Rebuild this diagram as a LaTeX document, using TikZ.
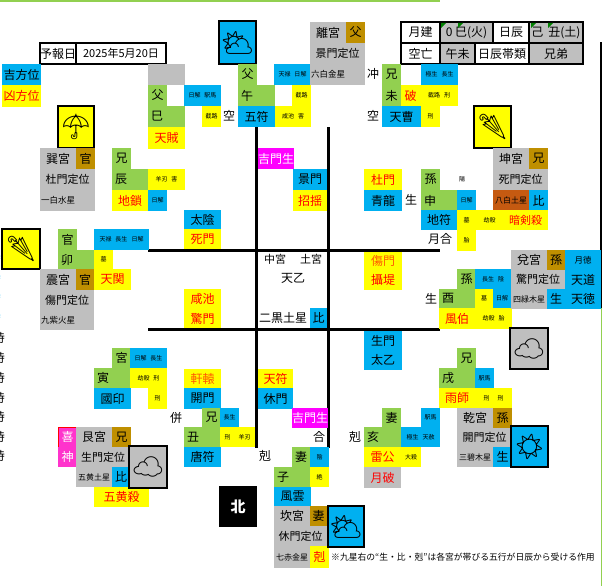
\documentclass[tikz,border=0pt]{standalone}
\usepackage{fontspec}
\setmainfont{Noto Sans CJK JP}
\newfontfamily\emojifont{Noto Emoji}
\definecolor{kgreen}{HTML}{92D050}
\definecolor{kblue}{HTML}{00B0F0}
\definecolor{kyellow}{HTML}{FFFF00}
\definecolor{kgray}{HTML}{BFBFBF}
\definecolor{kbrown}{HTML}{BF8F00}
\definecolor{korange}{HTML}{C55A11}
\definecolor{kmagenta}{HTML}{FF00FF}
\definecolor{kpink}{HTML}{FF33CC}
\tikzset{
  cell/.style={inner sep=0pt, outer sep=0pt, anchor=north west, text=black, font=\fontsize{12}{12}\selectfont},
  txm/.style={font=\fontsize{11}{11}\selectfont},
  txs/.style={font=\fontsize{8.5}{9}\selectfont},
  txt/.style={font=\fontsize{6}{6}\selectfont},
  gr/.style={fill=kgreen},
  bl/.style={fill=kblue},
  ye/.style={fill=kyellow},
  ag/.style={fill=kgray},
  br/.style={fill=kbrown},
  rd/.style={text=red},
  framed/.style={draw=black, line width=2pt},
  icon/.style={framed, font=\emojifont\fontsize{25}{25}\selectfont},
  bline/.style={line width=3pt, black},
  plain/.style={inner sep=0pt, font=\fontsize{12}{12}\selectfont}
}
% cell: name, x0, y0, x1, y1, style, text
\newcommand{\cellbox}[7]{\node[cell, minimum width={(#4-#2)*1pt}, minimum height={(#5-#3)*1pt}, #6] (#1) at (#2,#3) {#7};}
\newcommand{\lfttxt}[2]{\makebox[#1pt][l]{\hspace{3pt}#2}}
\newcommand{\starname}[2]{\makebox[#1pt][l]{\hspace{1pt}#2}}
\newcommand{\gap}{\hspace{4pt}}
\begin{document}
\begin{tikzpicture}[x=1pt, y=-1pt]
\useasboundingbox (0,0) rectangle (602,586);
% edges of the sheet
\fill[kgreen] (0,0) rectangle (440,2);
\fill[kgreen] (600.5,308) rectangle (602,586);
\fill[black] (600,42) rectangle (602,308);
% date and legend
\cellbox{dateA}{40}{43}{76}{64}{framed, fill=white}{予報日}
\cellbox{dateB}{76}{43}{166}{64}{framed, fill=white, txm}{2025年5月20日}
\cellbox{lucky}{2}{64}{41}{85}{bl}{吉方位}
\cellbox{unlucky}{2}{85}{41}{107}{ye, rd}{凶方位}
% header table
\cellbox{hA}{401}{22}{440}{43}{framed, fill=white}{月建}
\cellbox{hB}{440}{22}{493}{43}{framed, ag}{0 巳(火)}
\cellbox{hC}{493}{22}{529}{43}{framed, fill=white}{日辰}
\cellbox{hD}{529}{22}{583}{43}{framed, ag}{己\hspace{5pt}丑(土)}
\cellbox{hE}{401}{43}{440}{64}{framed, fill=white}{空亡}
\cellbox{hF}{440}{43}{475}{64}{framed, ag}{午未}
\cellbox{hG}{475}{43}{529}{64}{framed, fill=white}{日辰帯類}
\cellbox{hH}{529}{43}{583}{64}{framed, ag}{兄弟}
\foreach \cx in {441,458,531,548}
  \fill[green!50!black] (\cx,23) -- (\cx+5,23) -- (\cx,28) -- cycle;
% grid lines
\draw[bline] (256.5,127) -- (256.5,448);
\draw[bline] (328.5,127) -- (328.5,448);
\draw[bline] (148,250.5) -- (440,250.5);
\draw[bline] (148,329.5) -- (440,329.5);
% south-east palace (top left on sheet)
\cellbox{seIcon}{58}{106}{94}{148}{icon, ye}{☂}
\cellbox{seA}{40}{148}{76}{169}{ag}{巽宮}
\cellbox{seB}{76}{148}{95}{169}{br}{官}
\cellbox{seC}{40}{169}{95}{190}{ag, txm}{杜門定位}
\cellbox{seD}{40}{190}{95}{211}{ag, txs}{\starname{55}{一白水星}}
\cellbox{chenA}{112}{148}{131}{169}{gr}{兄}
\cellbox{chenB}{112}{169}{148}{190}{gr}{\lfttxt{36}{辰}}
\cellbox{chenC}{148}{169}{185}{190}{ye, txt}{羊刃\gap 害}
\cellbox{chenD}{112}{190}{148}{211}{ye, rd}{地鎖}
\cellbox{chenE}{148}{190}{167}{211}{bl, txt}{日解}
% south column
\cellbox{siA}{148}{64}{185}{85}{ag}{}
\cellbox{siB}{148}{85}{167}{106}{gr}{父}
\cellbox{siC}{148}{106}{185}{127}{gr}{\lfttxt{37}{巳}}
\cellbox{siD}{148}{127}{185}{149}{ye, rd}{天賊}
\cellbox{siE}{184}{85}{221}{106}{bl, txt}{日解\gap 駅馬}
\cellbox{siF}{202}{106}{221}{127}{ye, txt}{截路}
\node[plain] (kuA) at (229,116) {空};
\cellbox{noonIcon}{219}{21}{256}{64}{icon, bl}{⛅}
\cellbox{noonA}{238}{64}{257}{85}{gr}{父}
\cellbox{noonB}{238}{85}{275}{106}{gr}{\lfttxt{37}{午}}
\cellbox{noonC}{238}{106}{275}{127}{bl}{五符}
\cellbox{noonD}{274}{64}{311}{85}{bl, txt}{天禄\gap 日解}
\cellbox{noonE}{292}{85}{311}{106}{ye, txt}{截路}
\cellbox{noonF}{275}{106}{311}{127}{ye, txt}{咸池\gap 害}
\cellbox{liA}{310}{22}{346}{43}{ag}{離宮}
\cellbox{liB}{346}{22}{365}{43}{br}{父}
\cellbox{liC}{310}{43}{365}{64}{ag, txm}{景門定位}
\cellbox{liD}{310}{64}{365}{85}{ag, txs}{\starname{55}{六白金星}}
% south-west column
\node[plain] (chong) at (373,74) {冲};
\node[plain] (kuB) at (373,116) {空};
\cellbox{weiA}{382}{64}{401}{85}{gr}{兄}
\cellbox{weiB}{382}{85}{401}{106}{gr}{未}
\cellbox{weiC}{401}{85}{420}{106}{ye, rd}{破}
\cellbox{weiD}{420}{85}{458}{106}{ye, txt}{截路\gap 刑}
\cellbox{weiE}{421}{64}{458}{85}{bl, txt}{極生\gap 長生}
\cellbox{weiF}{382}{106}{421}{127}{bl}{天曹}
\cellbox{weiG}{421}{106}{440}{127}{ye, txt}{刑}
\cellbox{swIcon}{474}{106}{511}{148}{icon, ye}{🌂}
\cellbox{swA}{493}{148}{529}{169}{ag}{坤宮}
\cellbox{swB}{529}{148}{548}{169}{br}{兄}
\cellbox{swC}{493}{169}{548}{190}{ag, txm}{死門定位}
\cellbox{swD}{493}{190}{529}{211}{fill=korange, txs}{\fontsize{8}{8}\selectfont 八白土星}
\cellbox{swE}{529}{190}{548}{211}{bl}{比}
\cellbox{shenA}{364}{169}{402}{190}{ye, rd}{杜門}
\cellbox{shenB}{364}{190}{402}{211}{bl}{青龍}
\node[plain] (shengA) at (411,200) {生};
\cellbox{shenC}{421}{169}{440}{190}{gr}{孫}
\node[plain, txt] (yin) at (462,179) {陽};
\cellbox{shenD}{421}{190}{457}{211}{gr}{\lfttxt{36}{申}}
\cellbox{shenE}{457}{190}{476}{211}{bl, txt}{日解}
\cellbox{shenF}{421}{210}{457}{230}{bl}{地符}
\cellbox{shenG}{457}{210}{476}{230}{ye, txt}{墓}
\cellbox{shenH}{476}{210}{503}{230}{ye, txt}{劫殺}
\cellbox{shenI}{503}{210}{548}{230}{ye, rd}{\fontsize{11}{11}\selectfont 暗剣殺}
\node[plain] (yuehe) at (440,239) {月合};
\cellbox{shenJ}{457}{230}{476}{251}{ye, txt}{胎}
% east palace
\foreach \ty in {338,358,378,398,417,437,456}
  \node[plain] at (-1,\ty) {時};
\foreach \ty in {258,278,297,317}
  \node[plain, text=kblue] at (-5,\ty) {時};
\cellbox{eIcon}{2}{229}{40}{269}{icon, ye}{🌂}
\cellbox{maoA}{58}{229}{77}{250}{gr}{官}
\cellbox{maoB}{58}{250}{94}{269}{gr}{\lfttxt{36}{卯}}
\cellbox{maoC}{94}{229}{149}{250}{bl, txt}{天禄\gap 長生\gap 日解}
\cellbox{maoD}{94}{250}{113}{269}{ye, txt}{墓}
\cellbox{maoE}{94}{269}{131}{290}{ye, rd}{天関}
\cellbox{eA}{40}{269}{76}{290}{ag}{震宮}
\cellbox{eB}{76}{269}{94}{290}{br}{官}
\cellbox{eC}{40}{290}{94}{310}{ag, txm}{傷門定位}
\cellbox{eD}{40}{310}{94}{330}{ag, txs}{\starname{54}{九紫火星}}
\cellbox{cA}{184}{210}{221}{229}{bl}{太陰}
\cellbox{cB}{184}{229}{221}{249}{ye, rd}{死門}
\cellbox{cC}{184}{289}{221}{309}{ye, rd}{咸池}
\cellbox{cD}{184}{309}{221}{328}{ye, rd}{驚門}
\cellbox{cE}{258}{148}{293}{169}{fill=kmagenta, text=white}{吉門生}
\cellbox{cF}{293}{169}{327}{190}{bl}{景門}
\cellbox{cG}{293}{190}{327}{211}{ye, rd}{招揺}
% centre palace
\node[plain, txm] (zhongA) at (275,259) {中宮};
\node[plain, txm] (zhongB) at (311,259) {土宮};
\node[plain] (zhongC) at (293,278) {天乙};
\node[plain] (zhongD) at (283,318) {二黒土星};
\cellbox{zhongE}{310}{308}{327}{328}{bl}{比}
\cellbox{cH}{364}{252}{402}{270}{ye, text=orange!70!red}{傷門}
\cellbox{cI}{364}{270}{402}{290}{ye, rd}{攝堤}
\cellbox{cJ}{364}{331}{402}{350}{bl}{生門}
\cellbox{cK}{364}{350}{402}{370}{bl}{太乙}
% west palace
\node[plain] (shengB) at (431,299) {生};
\cellbox{youA}{457}{269}{476}{289}{gr}{孫}
\cellbox{youB}{475}{269}{511}{289}{bl, txt}{長生\gap 陰}
\cellbox{youC}{439}{289}{475}{308}{gr}{\lfttxt{36}{酉}}
\cellbox{youD}{475}{289}{493}{308}{ye, txt}{墓}
\cellbox{youE}{493}{289}{511}{308}{bl, txt}{日解}
\cellbox{youF}{439}{308}{475}{329}{ye, rd}{風伯}
\cellbox{youG}{475}{308}{512}{329}{ye, txt}{劫殺\gap 胎}
\cellbox{wA}{511}{250}{547}{270}{ag}{兌宮}
\cellbox{wB}{547}{250}{565}{270}{br}{孫}
\cellbox{wC}{565}{250}{601}{270}{bl, txs}{月徳}
\cellbox{wD}{511}{270}{565}{289}{ag, txm}{驚門定位}
\cellbox{wE}{565}{270}{601}{289}{bl}{天道}
\cellbox{wF}{511}{289}{547}{309}{ag, txs}{\fontsize{8}{8}\selectfont 四緑木星}
\cellbox{wG}{547}{289}{565}{309}{bl}{生}
\cellbox{wH}{565}{289}{601}{309}{bl}{天徳}
\cellbox{wIcon}{510}{328}{548}{369}{icon, ag}{☁}
% north-west palace
\cellbox{xuA}{457}{348}{476}{368}{gr}{兄}
\cellbox{xuB}{439}{368}{475}{388}{gr}{\lfttxt{36}{戌}}
\cellbox{xuC}{475}{368}{494}{388}{bl, txt}{駅馬}
\cellbox{xuD}{439}{388}{475}{408}{ye, rd}{雨師}
\cellbox{xuE}{475}{388}{512}{408}{ye, txt}{刑\gap\gap 刑}
\cellbox{nwA}{457}{408}{493}{428}{ag}{乾宮}
\cellbox{nwB}{493}{408}{512}{428}{br}{孫}
\cellbox{nwC}{457}{428}{512}{447}{ag, txm}{開門定位}
\cellbox{nwD}{457}{447}{493}{467}{ag, txs}{\fontsize{8}{8}\selectfont 三碧木星}
\cellbox{nwE}{493}{447}{512}{467}{bl}{生}
\cellbox{nwIcon}{511}{426}{548}{467}{icon, bl}{☀}
\node[plain] (keA) at (355,437) {剋};
\cellbox{haiA}{382}{408}{401}{427}{gr}{妻}
\cellbox{haiB}{421}{408}{440}{427}{bl, txt}{駅馬}
\cellbox{haiC}{364}{427}{401}{447}{gr}{\lfttxt{37}{亥}}
\cellbox{haiD}{401}{427}{440}{447}{bl, txt}{極生\gap 天赦}
\cellbox{haiE}{364}{447}{401}{467}{ye, rd}{雷公}
\cellbox{haiF}{401}{447}{421}{467}{ye, txt}{大殺}
\cellbox{haiG}{364}{467}{401}{488}{ag, rd}{月破}
% north-east palace
\cellbox{yinA}{112}{348}{131}{368}{gr}{宮}
\cellbox{yinB}{130}{348}{167}{368}{bl, txt}{日解\gap 長生}
\cellbox{yinC}{94}{368}{130}{388}{gr}{\lfttxt{36}{寅}}
\cellbox{yinD}{130}{368}{167}{388}{ye, txt}{劫殺\gap 刑}
\cellbox{yinE}{94}{388}{131}{409}{bl}{國印}
\cellbox{yinF}{148}{388}{167}{409}{ye, txt}{刑}
\cellbox{neA}{58}{427}{77}{447}{draw=red, line width=0.7pt, fill=kpink, text=white}{喜}
\cellbox{neB}{58}{447}{77}{467}{fill=kpink, text=white}{神}
\cellbox{neC}{76}{427}{112}{447}{ag}{艮宮}
\cellbox{neD}{112}{427}{131}{447}{br}{兄}
\cellbox{neE}{76}{447}{130}{467}{ag, txm}{生門定位}
\cellbox{neF}{76}{467}{112}{487}{ag, txs}{\fontsize{8}{8}\selectfont 五黄土星}
\cellbox{neG}{112}{467}{130}{487}{bl}{比}
\cellbox{neH}{94}{487}{149}{507}{ye, rd}{五黄殺}
\cellbox{neIcon}{129}{446}{167}{488}{icon, ag}{☁}
\cellbox{cL}{184}{369}{221}{388}{ye, text=orange!70!red}{軒轅}
\cellbox{cM}{184}{388}{221}{409}{bl}{開門}
\cellbox{cN}{258}{369}{293}{388}{ye, rd}{天符}
\cellbox{cO}{258}{388}{293}{409}{bl}{休門}
\cellbox{cP}{292}{408}{327}{428}{fill=kmagenta, text=white}{吉門生}
\node[plain] (heA) at (319,437) {合};
\node[plain] (bing) at (176,418) {併};
\cellbox{chouA}{202}{408}{221}{427}{gr}{兄}
\cellbox{chouB}{220}{408}{239}{427}{bl, txt}{長生}
\cellbox{chouC}{184}{427}{220}{447}{gr}{\lfttxt{36}{丑}}
\cellbox{chouD}{220}{427}{255}{447}{ye, txt}{刑\gap\gap 羊刃}
\cellbox{chouE}{184}{447}{221}{467}{bl}{唐符}
% north palace
\node[plain] (keB) at (265,456) {剋};
\cellbox{ziA}{292}{447}{310}{467}{gr}{妻}
\cellbox{ziB}{310}{447}{329}{467}{bl, txt}{陰}
\cellbox{ziC}{274}{467}{310}{487}{gr}{\lfttxt{36}{子}}
\cellbox{ziD}{310}{467}{329}{487}{ye, txt}{絶}
\cellbox{ziE}{274}{487}{311}{506}{bl}{風雲}
\cellbox{nA}{274}{506}{310}{526}{ag}{坎宮}
\cellbox{nB}{310}{506}{327}{526}{br}{妻}
\cellbox{nC}{274}{526}{327}{546}{ag, txm}{休門定位}
\cellbox{nD}{274}{546}{310}{568}{ag, txs}{\fontsize{8}{8}\selectfont 七赤金星}
\cellbox{nE}{310}{546}{329}{568}{ye, rd}{剋}
\cellbox{nIcon}{328}{506}{364}{547}{icon, bl}{⛅}
\cellbox{north}{219}{486}{257}{527}{fill=black, text=white, font=\fontsize{15}{15}\selectfont\bfseries}{北}
% note
\node[inner sep=0pt, anchor=west, font=\fontsize{8.8}{9}\selectfont] (note) at (331,557) {※九星右の“生・比・剋”は各宮が帯びる五行が日辰から受ける作用};
\end{tikzpicture}
\end{document}
